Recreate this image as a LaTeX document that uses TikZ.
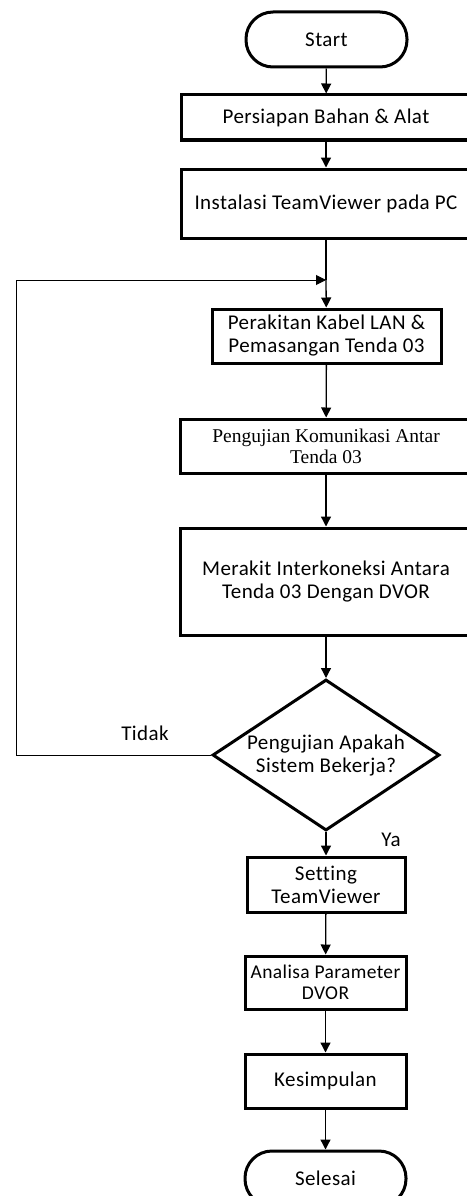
\documentclass[tikz,border=0pt]{standalone}
\usepackage{fontspec}
\setmainfont{Carlito}[Ligatures=NoCommon, LetterSpace=2]
\newfontfamily\timesfont{Liberation Serif}
\usetikzlibrary{arrows.meta,shapes.geometric}

\begin{document}
\begin{tikzpicture}[
    x=1pt, y=-1pt,
    >={Triangle[length=10pt,width=10pt]},
    flowbox/.style={draw, line width=3pt, align=center, inner sep=0pt,
      font=\fontsize{21}{23}\selectfont},
    termbox/.style={flowbox, rounded corners=27pt, minimum width=161pt, minimum height=55pt},
    decision/.style={flowbox, diamond, aspect=1.5, minimum width=227pt, minimum height=151pt},
    flowline/.style={->, line width=1.3pt},
    answer/.style={font=\fontsize{21}{23}\selectfont},
  ]
  \useasboundingbox (0,0) rectangle (466,1196);

  % ========= TOP =========
  \node[termbox] (start) at (326.5,39.5) {Start};
  \node[flowbox, minimum width=290pt, minimum height=45pt] (bahan) at (326,117.5) {Persiapan Bahan \& Alat};
  \node[flowbox, minimum width=290pt, minimum height=69pt] (instal) at (326,203.5) {Instalasi TeamViewer pada PC};
  \coordinate (join) at (326,280);

  % ========= LOOP =========
  \node[flowbox, minimum width=229pt, minimum height=54pt] (rakit) at (326.5,336) {Perakitan Kabel LAN \&\\Pemasangan Tenda 03};
  \node[flowbox, minimum width=292pt, minimum height=54pt,
    font=\timesfont\fontsize{19.5}{21}\selectfont] (uji) at (326,446) {Pengujian Komunikasi Antar\\Tenda 03};
  \node[flowbox, minimum width=292pt, minimum height=107pt] (inter) at (326,581.5) {Merakit Interkoneksi Antara\\Tenda 03 Dengan DVOR};
  \node[decision] (cek) at (326,755) {Pengujian Apakah\\Sistem Bekerja?};
  \coordinate (back) at (16,755);
  \coordinate (up) at (16,280);

  % ========= BOTTOM =========
  \node[flowbox, minimum width=158pt, minimum height=55pt] (setting) at (326,884.5) {Setting\\TeamViewer};
  \node[flowbox, minimum width=161pt, minimum height=53pt,
    font=\fontsize{19.5}{21.5}\selectfont] (analisa) at (325.5,982.5) {Analisa Parameter\\DVOR};
  \node[flowbox, minimum width=161pt, minimum height=54pt] (simpul) at (325.5,1081) {Kesimpulan};
  \node[termbox] (selesai) at (325.5,1178.5) {Selesai};

  % Labels
  \node[answer] (tidak) at (145,733) {Tidak};
  \node[answer] (ya) at (391,840) {Ya};

  % Arrows
  \draw[flowline] (start) -- (bahan);
  \draw[flowline] (bahan) -- (instal);
  \draw[line width=1.3pt] (instal) -- (join);
  \draw[flowline] (join) -- (rakit);
  \draw[flowline] (rakit) -- (uji);
  \draw[flowline] (uji) -- (inter);
  \draw[flowline] (inter) -- (cek);
  \draw[->, line width=1pt] (cek.west) -- (back) -- (up) -- (join);
  \draw[flowline] (cek) -- (setting);
  \draw[flowline] (setting) -- (analisa);
  \draw[flowline] (analisa) -- (simpul);
  \draw[flowline] (simpul) -- (selesai);
\end{tikzpicture}
\end{document}
